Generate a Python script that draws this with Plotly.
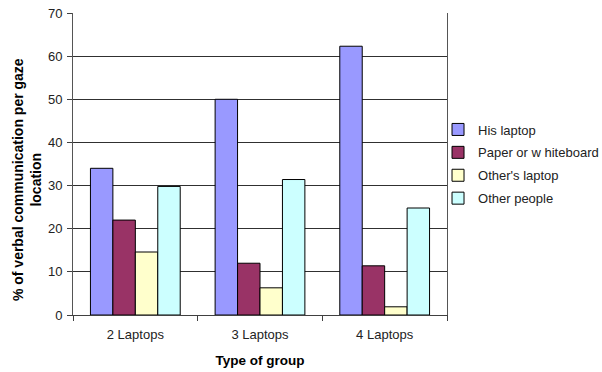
import plotly.graph_objects as go

# Group types along the x axis
groups = ["2 Laptops", "3 Laptops", "4 Laptops"]

# % of verbal communication per gaze location
his_laptop = [34.0, 50.0, 62.3]
paper_or_whiteboard = [22.0, 12.0, 11.4]
others_laptop = [14.6, 6.3, 1.9]
other_people = [29.8, 31.4, 24.8]

series_names = ["His laptop", "Paper or w hiteboard", "Other's laptop", "Other people"]
series_values = [his_laptop, paper_or_whiteboard, others_laptop, other_people]
series_colors = ["#9999FF", "#993366", "#FFFFCC", "#CCFFFF"]

y_ticks = [0, 10, 20, 30, 40, 50, 60, 70]

FONT = "Arial, Liberation Sans, sans-serif"

fig = go.Figure()
for i, (name, vals, col) in enumerate(zip(series_names, series_values, series_colors)):
    fig.add_trace(go.Bar(
        x=groups, y=vals, name=name,
        marker=dict(color=col, line=dict(color="black", width=1)),
        legendgroup=f"g{i}",
    ))

fig.update_layout(
    width=602, height=372,
    margin=dict(l=73, r=155, t=13, b=57, autoexpand=False),
    paper_bgcolor="white", plot_bgcolor="white",
    barmode="group", bargap=0.28, bargroupgap=0,
    font=dict(family=FONT, size=13, color="black"),
    showlegend=True,
    legend=dict(x=0.976, y=0.5, xanchor="left", yanchor="middle",
                font=dict(size=13, color="#222222"), tracegroupgap=3,
                bgcolor="rgba(0,0,0,0)"),
    xaxis=dict(
        showline=True, linecolor="#404040", linewidth=1,
        ticks="outside", tickson="boundaries", ticklen=5, tickcolor="#404040",
        tickfont=dict(size=13, color="#222222"), ticklabelstandoff=7,
        title=dict(text="<b>Type of group</b>", font=dict(size=13.5), standoff=14),
    ),
    yaxis=dict(
        range=[0, 70], tickvals=y_ticks,
        showline=True, linecolor="#555555", linewidth=1, mirror=True,
        ticks="outside", ticklen=5, tickcolor="#404040",
        showgrid=True, gridcolor="#303030", gridwidth=1,
        tickfont=dict(size=13, color="#222222"), zeroline=False,
        ticklabelstandoff=2,
    ),
    annotations=[dict(
        text="<b>% of verbal communication per gaze<br>location</b>",
        xref="paper", yref="paper", x=-0.123, y=0.45,
        xanchor="center", yanchor="middle", textangle=-90,
        showarrow=False, font=dict(size=14),
    )],
)

fig.write_html("out.html")
